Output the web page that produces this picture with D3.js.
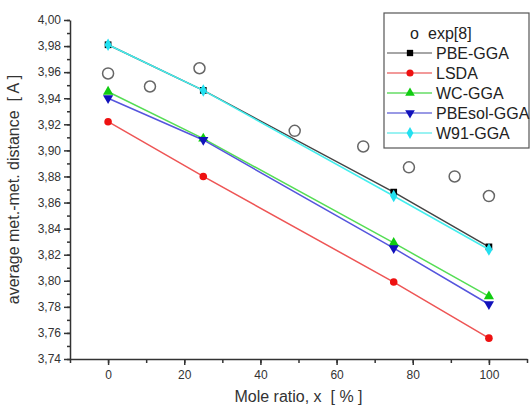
<!DOCTYPE html>
<html lang="en">
<head>
<meta charset="UTF-8">
<title>Met.-met. distance vs mole ratio</title>
<script src="https://d3js.org/d3.v7.min.js"></script>
<style>
    body { margin: 0; background: #fff; font-family: "Liberation Sans", Arial, sans-serif; }
    .axis text { font-size: 12px; fill: #333; }
    .axis path, .axis line { stroke: #333; stroke-width: 1.5; }
</style>
</head>
<body>
<svg width="531" height="410"></svg>
<script>
    // Data
    const xCalc = [0, 25, 75, 100];
    const pbeGga = [3.981, 3.946, 3.868, 3.826];
    const lsda = [3.922, 3.880, 3.799, 3.756];
    const wcGga = [3.945, 3.909, 3.829, 3.788];
    const pbesolGga = [3.940, 3.908, 3.825, 3.782];
    const w91Gga = [3.981, 3.946, 3.865, 3.824];

    const xExp = [0, 11, 24, 49, 67, 79, 91, 100];
    const yExp = [3.959, 3.949, 3.963, 3.915, 3.903, 3.887, 3.880, 3.865];

    const xTicks = [0, 20, 40, 60, 80, 100];
    const yTicks = [3.74, 3.76, 3.78, 3.80, 3.82, 3.84, 3.86, 3.88, 3.90, 3.92, 3.94, 3.96, 3.98, 4.00];

    const series = [
        { name: "PBE-GGA", y: pbeGga, line: "#444", leg: "#888", fill: "#000", sym: d3.symbolSquare, rot: 0 },
        { name: "LSDA", y: lsda, line: "#ee5555", leg: "#ee7777", fill: "#ee1111", sym: d3.symbolCircle, rot: 0 },
        { name: "WC-GGA", y: wcGga, line: "#55dd55", leg: "#66dd66", fill: "#11cc11", sym: d3.symbolTriangle, rot: 0 },
        { name: "PBEsol-GGA", y: pbesolGga, line: "#5555dd", leg: "#7777dd", fill: "#1111bb", sym: d3.symbolTriangle, rot: 180 },
        { name: "W91-GGA", y: w91Gga, line: "#44eeee", leg: "#77eeee", fill: "#22e0f0", sym: d3.symbolDiamond, rot: 0 }
    ];

    const svg = d3.select("svg");
    const mLeft = 70, mRight = 527, mTop = 20, mBottom = 359;

    const x = d3.scaleLinear().domain([-10, 110]).range([mLeft, mRight]);
    const y = d3.scaleLinear().domain([3.74, 4.00]).range([mBottom, mTop]);

    const comma = v => d3.format(".2f")(v).replace(".", ",");

    // minor ticks
    svg.append("g").attr("class", "axis")
        .attr("transform", `translate(0,${mBottom})`)
        .call(d3.axisBottom(x).tickValues(d3.range(-10, 111, 10)).tickSize(4).tickFormat(""))
        .select(".domain").remove();
    svg.append("g").attr("class", "axis")
        .attr("transform", `translate(${mLeft},0)`)
        .call(d3.axisLeft(y).tickValues(d3.range(3.74, 4.001, 0.01)).tickSize(3).tickFormat(""))
        .select(".domain").remove();

    // major ticks
    svg.append("g").attr("class", "axis")
        .attr("transform", `translate(0,${mBottom})`)
        .call(d3.axisBottom(x).tickValues(xTicks).tickSize(6).tickSizeOuter(0).tickPadding(5));
    svg.append("g").attr("class", "axis")
        .attr("transform", `translate(${mLeft},0)`)
        .call(d3.axisLeft(y).tickValues(yTicks).tickFormat(comma).tickSize(6).tickSizeOuter(0).tickPadding(3));

    // axis titles
    svg.append("text")
        .attr("x", x(50)).attr("y", 402)
        .attr("text-anchor", "middle")
        .style("font-size", "16px").style("fill", "#333")
        .style("white-space", "pre")
        .text("Mole ratio, x  [ % ]");
    svg.append("text")
        .attr("transform", `translate(19,${(mTop + mBottom) / 2}) rotate(-90)`)
        .attr("text-anchor", "middle")
        .style("font-size", "16px").style("fill", "#333")
        .style("white-space", "pre")
        .text("average met.-met. distance  [ A ]");

    // calculated series
    const line = d3.line().x((d, i) => x(xCalc[i])).y(d => y(d));
    series.forEach(s => {
        svg.append("path")
            .datum(s.y)
            .attr("d", line)
            .attr("fill", "none")
            .attr("stroke", s.line)
            .attr("stroke-width", 1.5);
        svg.selectAll(null)
            .data(s.y)
            .enter().append("path")
            .attr("d", d3.symbol().type(s.sym).size(45))
            .attr("transform", (d, i) => `translate(${x(xCalc[i])},${y(d)}) rotate(${s.rot})`)
            .attr("fill", s.fill);
    });

    // experimental points
    svg.selectAll(".exp")
        .data(xExp)
        .enter().append("circle")
        .attr("class", "exp")
        .attr("cx", d => x(d))
        .attr("cy", (d, i) => y(yExp[i]))
        .attr("r", 5.5)
        .attr("fill", "none")
        .attr("stroke", "#666")
        .attr("stroke-width", 1.5);

    // legend
    const lg = svg.append("g");
    lg.append("rect")
        .attr("x", 384).attr("y", 13)
        .attr("width", 145).attr("height", 135)
        .attr("fill", "#fff").attr("stroke", "#555").attr("stroke-width", 1.2);
    lg.append("text")
        .attr("x", 410).attr("y", 39)
        .style("font-size", "16px").style("fill", "#222")
        .text("o");
    lg.append("text")
        .attr("x", 428).attr("y", 39)
        .style("font-size", "16px").style("fill", "#222")
        .text("exp[8]");
    series.forEach((s, i) => {
        const ly = 53 + i * 20;
        lg.append("line")
            .attr("x1", 387).attr("x2", 432)
            .attr("y1", ly).attr("y2", ly)
            .attr("stroke", s.leg).attr("stroke-width", 1.5);
        lg.append("path")
            .attr("d", d3.symbol().type(s.sym).size(40))
            .attr("transform", `translate(410,${ly}) rotate(${s.rot})`)
            .attr("fill", s.fill);
        lg.append("text")
            .attr("x", 436).attr("y", ly + 6)
            .style("font-size", "16px").style("fill", "#222")
            .text(s.name);
    });
</script>
</body>
</html>
